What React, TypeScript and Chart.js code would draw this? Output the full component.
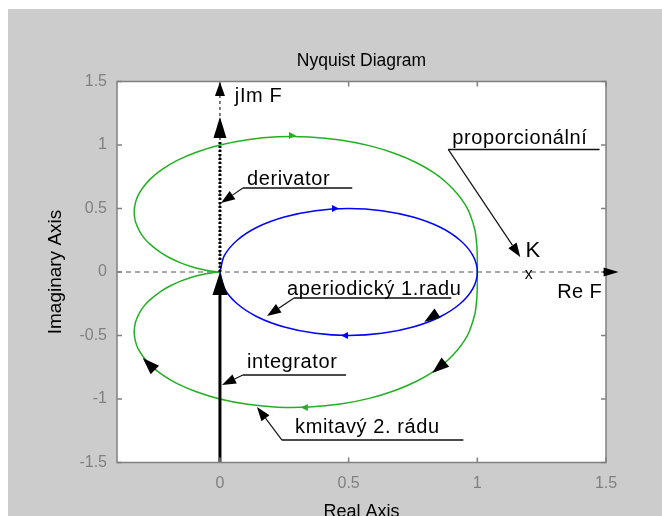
import React, { useEffect, useRef } from "react";
import { Chart, registerables } from "chart.js";
Chart.register(...registerables);

// ---- axes ----
const X_MIN = -0.4;
const X_MAX = 1.5;
const Y_MIN = -1.5;
const Y_MAX = 1.5;
const xTickValues = [0, 0.5, 1, 1.5];
const xTickLabels = ["0", "0.5", "1", "1.5"];
const yTickValues = [-1.5, -1, -0.5, 0, 0.5, 1, 1.5];
const yTickLabels = ["-1.5", "-1", "-0.5", "0", "0.5", "1", "1.5"];

// ---- aperiodic 1st order (blue) ----
const blueRe = [0, 0.017, 0.067, 0.146, 0.25, 0.371, 0.5, 0.629, 0.75, 0.854, 0.933, 0.983, 1, 0.983, 0.933, 0.854, 0.75, 0.629, 0.5, 0.371, 0.25, 0.146, 0.067, 0.017, 0];
const blueIm = [0, 0.129, 0.25, 0.354, 0.433, 0.483, 0.5, 0.483, 0.433, 0.354, 0.25, 0.129, 0, -0.129, -0.25, -0.354, -0.433, -0.483, -0.5, -0.483, -0.433, -0.354, -0.25, -0.129, 0];

// ---- oscillating 2nd order (green) ----
const greenRe = [1, 1.0, 0.998, 0.991, 0.970, 0.951, 0.923, 0.884, 0.832, 0.764, 0.680, 0.580, 0.468, 0.347, 0.225, 0.107, 0, -0.092, -0.168, -0.226, -0.269, -0.299, -0.319, -0.329, -0.333, -0.332, -0.328, -0.312, -0.293, -0.271, -0.231, -0.196, -0.155, -0.110, -0.081, -0.049, -0.028, -0.010, 0];
const greenLowerIm = [0, -0.101, -0.208, -0.327, -0.462, -0.537, -0.615, -0.697, -0.780, -0.860, -0.933, -0.995, -1.040, -1.063, -1.064, -1.042, -1.000, -0.943, -0.877, -0.806, -0.735, -0.665, -0.600, -0.540, -0.486, -0.437, -0.393, -0.320, -0.263, -0.218, -0.154, -0.112, -0.074, -0.041, -0.025, -0.012, -0.005, -0.001, 0];
const greenUpperIm = [0, 0.101, 0.208, 0.327, 0.462, 0.537, 0.615, 0.697, 0.780, 0.860, 0.933, 0.995, 1.040, 1.063, 1.064, 1.042, 1.000, 0.943, 0.877, 0.806, 0.735, 0.665, 0.600, 0.540, 0.486, 0.437, 0.393, 0.320, 0.263, 0.218, 0.154, 0.112, 0.074, 0.041, 0.025, 0.012, 0.005, 0.001, 0];

// ---- axis / element lines ----
const realAxisX = [-0.4, 1.5];
const imagAxisY = [0, 1.5];
const derivatorY = [0, 1.04];
const integratorY = [-1.5, -0.18];
const reArrowLineX = [1.49, 1.55];

// ---- labels ----
const labelTexts = ["jIm F", "derivator", "aperiodický 1.radu", "integrator", "kmitavý 2. rádu", "proporcionální", "K", "Re F", "x"];
const labelX = [0.058, 0.105, 0.261, 0.105, 0.292, 0.903, 1.187, 1.311, 1.2];
const labelY = [1.339, 0.685, -0.181, -0.756, -1.268, 1.008, 0.118, -0.205, -0.055];

// ---- underlines (derivator, aperiodický, integrator, kmitavý, proporcionální) ----
const underlineY = [0.661, -0.205, -0.811, -1.323, 0.965];
const underlineX0 = [0.089, 0.288, 0.089, 0.241, 0.887];
const underlineX1 = [0.514, 0.899, 0.49, 0.946, 1.475];

// ---- leaders: from underline start to arrow tip ----
const leaderTipX = [0.004, 0.183, 0.008, 0.144, 1.167];
const leaderTipY = [0.543, -0.346, -0.89, -1.063, 0.118];

// ---- big black arrowheads: tip and tail point ----
const bigArrowTipX = [-0.3, 0.825, 0.794, 0, 0, 0, 1.549];
const bigArrowTipY = [-0.677, -0.795, -0.394, 1.496, 1.22, 0, 0];
const bigArrowTailX = [-0.245, 0.876, 0.84, 0, 0, 0, 1.49];
const bigArrowTailY = [-0.787, -0.709, -0.331, 1.39, 1.04, -0.19, 0];

// ---- small direction arrows on curves (+1 right, -1 left) ----
const smallArrowX = [0.28, 0.33, 0.447, 0.486];
const smallArrowY = [1.075, -1.066, 0.5, -0.5];
const smallArrowDir = [1, -1, 1, -1];

// ---- styles ----
const GREEN = "#22b022";
const BLUE = "#0000ff";
const FONT = '"Liberation Sans", Arial, sans-serif';
const bigArrowLen = [17, 17, 16, 14, 21, 23, 15];
const bigArrowHW = [6, 6, 5.5, 5, 6.5, 7.5, 4.5];
const smallArrowColor = [GREEN, GREEN, BLUE, BLUE];
const labelSize = [20, 20, 20, 20, 20, 20, 22, 20, 16];
const labelSpacing = [0.6, 0.6, 0.6, 0.6, 0.6, 0.6, 0, 0.3, 0];

function pts(xs: number[], ys: number[]) {
  return xs.map((x, i) => ({ x, y: ys[i] }));
}

function arrowHead(ctx: CanvasRenderingContext2D, tx: number, ty: number, fx: number, fy: number, len: number, hw: number) {
  const dx = tx - fx;
  const dy = ty - fy;
  const d = Math.hypot(dx, dy) || 1;
  const ux = dx / d;
  const uy = dy / d;
  const bx = tx - ux * len;
  const by = ty - uy * len;
  ctx.beginPath();
  ctx.moveTo(tx, ty);
  ctx.lineTo(bx - uy * hw, by + ux * hw);
  ctx.lineTo(bx + uy * hw, by - ux * hw);
  ctx.closePath();
  ctx.fill();
  return [bx, by];
}

const annotPlugin = {
  id: "annot",
  beforeDraw(chart: any) {
    const { ctx, width, height, chartArea: a } = chart;
    ctx.save();
    ctx.fillStyle = "#cccccc";
    ctx.fillRect(0, 0, width, height);
    ctx.fillStyle = "#ffffff";
    ctx.fillRect(a.left, a.top, a.right - a.left, a.bottom - a.top);
    ctx.restore();
  },
  afterDatasetsDraw(chart: any) {
    const { ctx, chartArea: a } = chart;
    const xs = chart.scales.x;
    const ys = chart.scales.y;
    const px = (v: number) => xs.getPixelForValue(v);
    const py = (v: number) => ys.getPixelForValue(v);
    ctx.save();
    // frame and inward ticks
    ctx.strokeStyle = "#808080";
    ctx.lineWidth = 1.5;
    ctx.strokeRect(a.left, a.top, a.right - a.left, a.bottom - a.top);
    ctx.beginPath();
    xTickValues.forEach((v) => {
      const x = px(v);
      ctx.moveTo(x, a.bottom);
      ctx.lineTo(x, a.bottom - 5);
      ctx.moveTo(x, a.top);
      ctx.lineTo(x, a.top + 5);
    });
    yTickValues.forEach((v) => {
      const y = py(v);
      ctx.moveTo(a.left, y);
      ctx.lineTo(a.left + 5, y);
      ctx.moveTo(a.right, y);
      ctx.lineTo(a.right - 5, y);
    });
    ctx.stroke();

    // small direction arrows
    smallArrowX.forEach((v, i) => {
      ctx.fillStyle = smallArrowColor[i];
      const x = px(v);
      const y = py(smallArrowY[i]);
      arrowHead(ctx, x + smallArrowDir[i] * 4, y, x - smallArrowDir[i] * 4, y, 7, 3.5);
    });

    // Re arrow line
    ctx.strokeStyle = "#000";
    ctx.lineWidth = 2;
    ctx.beginPath();
    ctx.moveTo(px(reArrowLineX[0]), py(0));
    ctx.lineTo(px(reArrowLineX[1]) - 10, py(0));
    ctx.stroke();

    // big arrowheads
    ctx.fillStyle = "#000";
    bigArrowTipX.forEach((v, i) => {
      arrowHead(ctx, px(v), py(bigArrowTipY[i]), px(bigArrowTailX[i]), py(bigArrowTailY[i]), bigArrowLen[i], bigArrowHW[i]);
    });

    // underlines
    ctx.strokeStyle = "#111";
    ctx.lineWidth = 1.5;
    ctx.beginPath();
    underlineY.forEach((v, i) => {
      ctx.moveTo(px(underlineX0[i]), py(v));
      ctx.lineTo(px(underlineX1[i]), py(v));
    });
    ctx.stroke();

    // leaders with arrowheads
    ctx.lineWidth = 1.2;
    leaderTipX.forEach((v, i) => {
      const fx = px(underlineX0[i]);
      const fy = py(underlineY[i]);
      const tx = px(v);
      const ty = py(leaderTipY[i]);
      ctx.fillStyle = "#000";
      const [bx, by] = arrowHead(ctx, tx, ty, fx, fy, 14, 5);
      ctx.beginPath();
      ctx.moveTo(fx, fy);
      ctx.lineTo(bx, by);
      ctx.stroke();
    });

    // labels
    ctx.fillStyle = "#000";
    ctx.textBaseline = "alphabetic";
    labelTexts.forEach((t, i) => {
      ctx.font = `${labelSize[i]}px ${FONT}`;
      (ctx as any).letterSpacing = `${labelSpacing[i]}px`;
      ctx.textAlign = t === "x" ? "center" : "left";
      ctx.fillText(t, px(labelX[i]), py(labelY[i]));
    });
    (ctx as any).letterSpacing = "0px";
    ctx.restore();
  },
  afterDraw(chart: any) {
    const { ctx, chartArea: a, height } = chart;
    const cx = (a.left + a.right) / 2;
    ctx.save();
    ctx.fillStyle = "#000";
    ctx.textAlign = "center";
    ctx.textBaseline = "middle";
    ctx.font = `17.5px ${FONT}`;
    ctx.fillText("Nyquist Diagram", cx, 52);
    ctx.textBaseline = "alphabetic";
    ctx.font = `18px ${FONT}`;
    ctx.fillText("Real Axis", cx, height + 1);
    ctx.translate(48, (a.top + a.bottom) / 2);
    ctx.rotate(-Math.PI / 2);
    ctx.textBaseline = "middle";
    ctx.font = `19px ${FONT}`;
    ctx.fillText("Imaginary Axis", 0, 0);
    ctx.restore();
  },
};

function labelFor(values: number[], labels: string[], v: number) {
  const i = values.findIndex((t) => Math.abs(t - v) < 1e-9);
  return i >= 0 ? labels[i] : "";
}

export default function App() {
  const ref = useRef<HTMLCanvasElement>(null);
  useEffect(() => {
    document.body.style.margin = "0";
    document.body.style.overflow = "hidden";
    const canvas = ref.current!;
    const chart = new Chart(canvas, {
      type: "scatter",
      data: {
        datasets: [
          { data: pts([0, 0], integratorY), showLine: true, borderColor: "#000", borderWidth: 3, pointRadius: 0, order: 0 },
          { data: pts([0, 0], derivatorY), showLine: true, borderColor: "#000", borderWidth: 3, borderDash: [2, 2], pointRadius: 0, order: 0 },
          { data: pts(blueRe, blueIm), showLine: true, borderColor: BLUE, borderWidth: 1.5, pointRadius: 0, tension: 0.3, order: 1 },
          { data: pts(greenRe, greenLowerIm), showLine: true, borderColor: GREEN, borderWidth: 1.5, pointRadius: 0, tension: 0.2, order: 2 },
          { data: pts(greenRe, greenUpperIm), showLine: true, borderColor: GREEN, borderWidth: 1.5, pointRadius: 0, tension: 0.2, order: 2 },
          { data: pts(realAxisX, [0, 0]), showLine: true, borderColor: "#555", borderWidth: 1, borderDash: [5, 4], pointRadius: 0, order: 5 },
          { data: pts([0, 0], imagAxisY), showLine: true, borderColor: "#000", borderWidth: 1, borderDash: [3, 3], pointRadius: 0, order: 5 },
        ],
      },
      options: {
        animation: false,
        responsive: false,
        devicePixelRatio: 1,
        events: [],
        layout: { padding: { top: 72.5, right: 56, bottom: 0, left: 0 } },
        plugins: { legend: { display: false }, tooltip: { enabled: false }, title: { display: false } },
        scales: {
          x: {
            type: "linear",
            min: X_MIN,
            max: X_MAX,
            afterFit: (s: any) => {
              s.height = 53.5;
            },
            afterBuildTicks: (s: any) => {
              s.ticks = xTickValues.map((v) => ({ value: v }));
            },
            ticks: {
              callback: (v: any) => labelFor(xTickValues, xTickLabels, Number(v)),
              color: "#808080",
              font: { size: 16, family: FONT },
              padding: 11,
              maxRotation: 0,
              autoSkip: false,
            },
            grid: { display: false, drawTicks: false },
            border: { display: false },
          },
          y: {
            type: "linear",
            min: Y_MIN,
            max: Y_MAX,
            afterFit: (s: any) => {
              s.width = 109;
            },
            afterBuildTicks: (s: any) => {
              s.ticks = yTickValues.map((v) => ({ value: v }));
            },
            ticks: {
              callback: (v: any) => labelFor(yTickValues, yTickLabels, Number(v)),
              color: "#808080",
              font: { size: 16, family: FONT },
              padding: 10,
              autoSkip: false,
            },
            grid: { display: false, drawTicks: false },
            border: { display: false },
          },
        },
      },
      plugins: [annotPlugin],
    } as any);
    return () => chart.destroy();
  }, []);
  return (
    <div style={{ position: "absolute", left: 8, top: 9, width: 654, height: 507 }}>
      <canvas ref={ref} width={654} height={507} style={{ display: "block", width: 654, height: 507 }} />
    </div>
  );
}
